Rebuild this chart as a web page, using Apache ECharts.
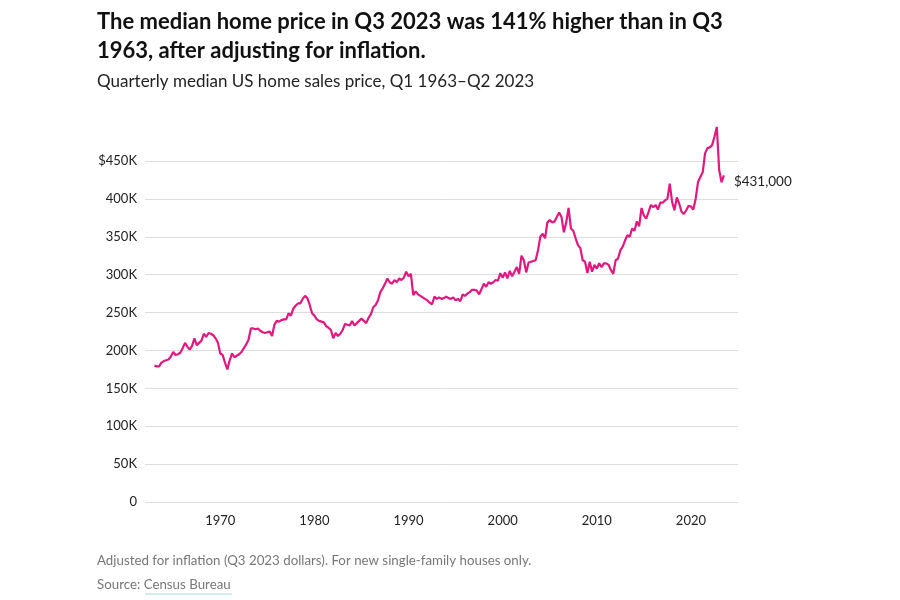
<!DOCTYPE html>
<html>
<head>
<meta charset="utf-8">
<script src="https://cdn.jsdelivr.net/npm/echarts@6/dist/echarts.min.js"></script>
<style>
html,body{margin:0;padding:0;background:#fff;}
#chart{width:900px;height:600px;}
</style>
</head>
<body>
<div id="chart"></div>
<script>
// Quarterly median new home price (thousands, Q3 2023 dollars), Q1 1963 .. Q3 2023
const startYear = 1963;
const values = [
  180,179,179,184, 186,187,188,192, 198,194,195,197, 203,210,205,201, 206,216,207,210,
  213,222,218,223, 222,220,216,210, 196,194,184,175, 187,196,191,193, 195,198,203,208,
  214,229,229,228, 229,226,224,223, 224,225,219,234, 239,238,240,241, 241,249,246,255,
  259,262,262,268, 272,269,260,249, 246,241,239,238, 237,232,230,227, 216,223,219,222,
  227,235,234,233, 239,233,236,239, 242,239,236,243, 248,257,260,266, 277,282,288,295,
  290,288,293,290, 295,293,296,304, 298,301,273,278, 274,272,270,268, 266,263,261,271,
  268,270,268,269, 271,269,268,270, 266,268,265,274, 272,275,277,280, 280,279,274,281,
  288,284,290,288, 290,293,292,302, 296,303,295,305, 298,304,310,301, 325,319,303,316,
  317,318,319,332, 350,354,348,369, 372,369,370,376, 382,376,356,369, 388,361,358,348,
  339,335,319,317, 302,317,304,313, 308,315,310,315, 315,313,306,301, 319,321,332,337,
  345,352,350,361, 358,370,364,388, 378,374,383,392, 389,392,386,395, 395,398,400,420,
  396,385,402,394, 383,380,385,391, 390,386,400,422, 429,435,460,467, 468,471,482,495,
  438,422,431
];
const xTickLabels = [1970, 1980, 1990, 2000, 2010, 2020];
const yTicks = [0, 50000, 100000, 150000, 200000, 250000, 300000, 350000, 400000, 450000];
const titleLines = ['The median home price in Q3 2023 was 141% higher than in Q3', '1963, after adjusting for inflation.'];
const subtitle = 'Quarterly median US home sales price, Q1 1963\u2013Q2 2023';
const note = 'Adjusted for inflation (Q3 2023 dollars). For new single-family houses only.';
const endLabelText = '$431,000';

const seriesData = values.map((v, i) => [startYear + i / 4, v * 1000]);

const FONT = 'Lato, "Open Sans", sans-serif';
const chart = echarts.init(document.getElementById('chart'));
chart.setOption({
  animation: false,
  backgroundColor: '#fff',
  grid: {left: 145, right: 162, top: 161, bottom: 98, containLabel: false},
  xAxis: {
    type: 'value', min: 1962, max: 2025, interval: 2,
    axisLine: {show: false}, axisTick: {show: false}, splitLine: {show: false},
    axisLabel: {
      color: '#222', fontSize: 13, fontFamily: FONT, margin: 12,
      formatter: v => (xTickLabels.indexOf(Math.round(v)) >= 0 ? String(Math.round(v)) : '')
    }
  },
  yAxis: {
    type: 'value', min: 0, max: 450000, interval: 50000,
    axisLine: {show: false}, axisTick: {show: false},
    splitLine: {lineStyle: {color: '#dedede', width: 1}},
    axisLabel: {
      color: '#222', fontSize: 13, fontFamily: FONT, margin: 8,
      formatter: v => v === 0 ? '0' : (v === yTicks[yTicks.length - 1] ? '$' : '') + (v / 1000) + 'K'
    }
  },
  series: [{
    type: 'line', data: seriesData, showSymbol: false, clip: false,
    lineStyle: {color: '#E0187F', width: 2.2}, itemStyle: {color: '#E0187F'},
    endLabel: {show: true, formatter: endLabelText, color: '#222', fontSize: 13.5, fontFamily: FONT, distance: 10, offset: [0, 6]}
  }],
  graphic: [
    {type: 'text', left: 97, top: 11, style: {text: titleLines[0], font: 'bold 22px ' + FONT, fill: '#111'}},
    {type: 'text', left: 97, top: 40, style: {text: titleLines[1], font: 'bold 22px ' + FONT, fill: '#111'}},
    {type: 'text', left: 97, top: 73, style: {text: subtitle, font: '17px ' + FONT, fill: '#222'}},
    {type: 'text', left: 97, top: 554, style: {text: note, font: '13.3px ' + FONT, fill: '#777'}},
    {type: 'text', left: 97, top: 578, style: {text: 'Source: Census Bureau', font: '13.3px ' + FONT, fill: '#777'}},
    {type: 'line', shape: {x1: 145, y1: 594, x2: 232, y2: 594}, style: {stroke: '#a9d6df', lineWidth: 1}}
  ]
});
</script>
</body>
</html>
